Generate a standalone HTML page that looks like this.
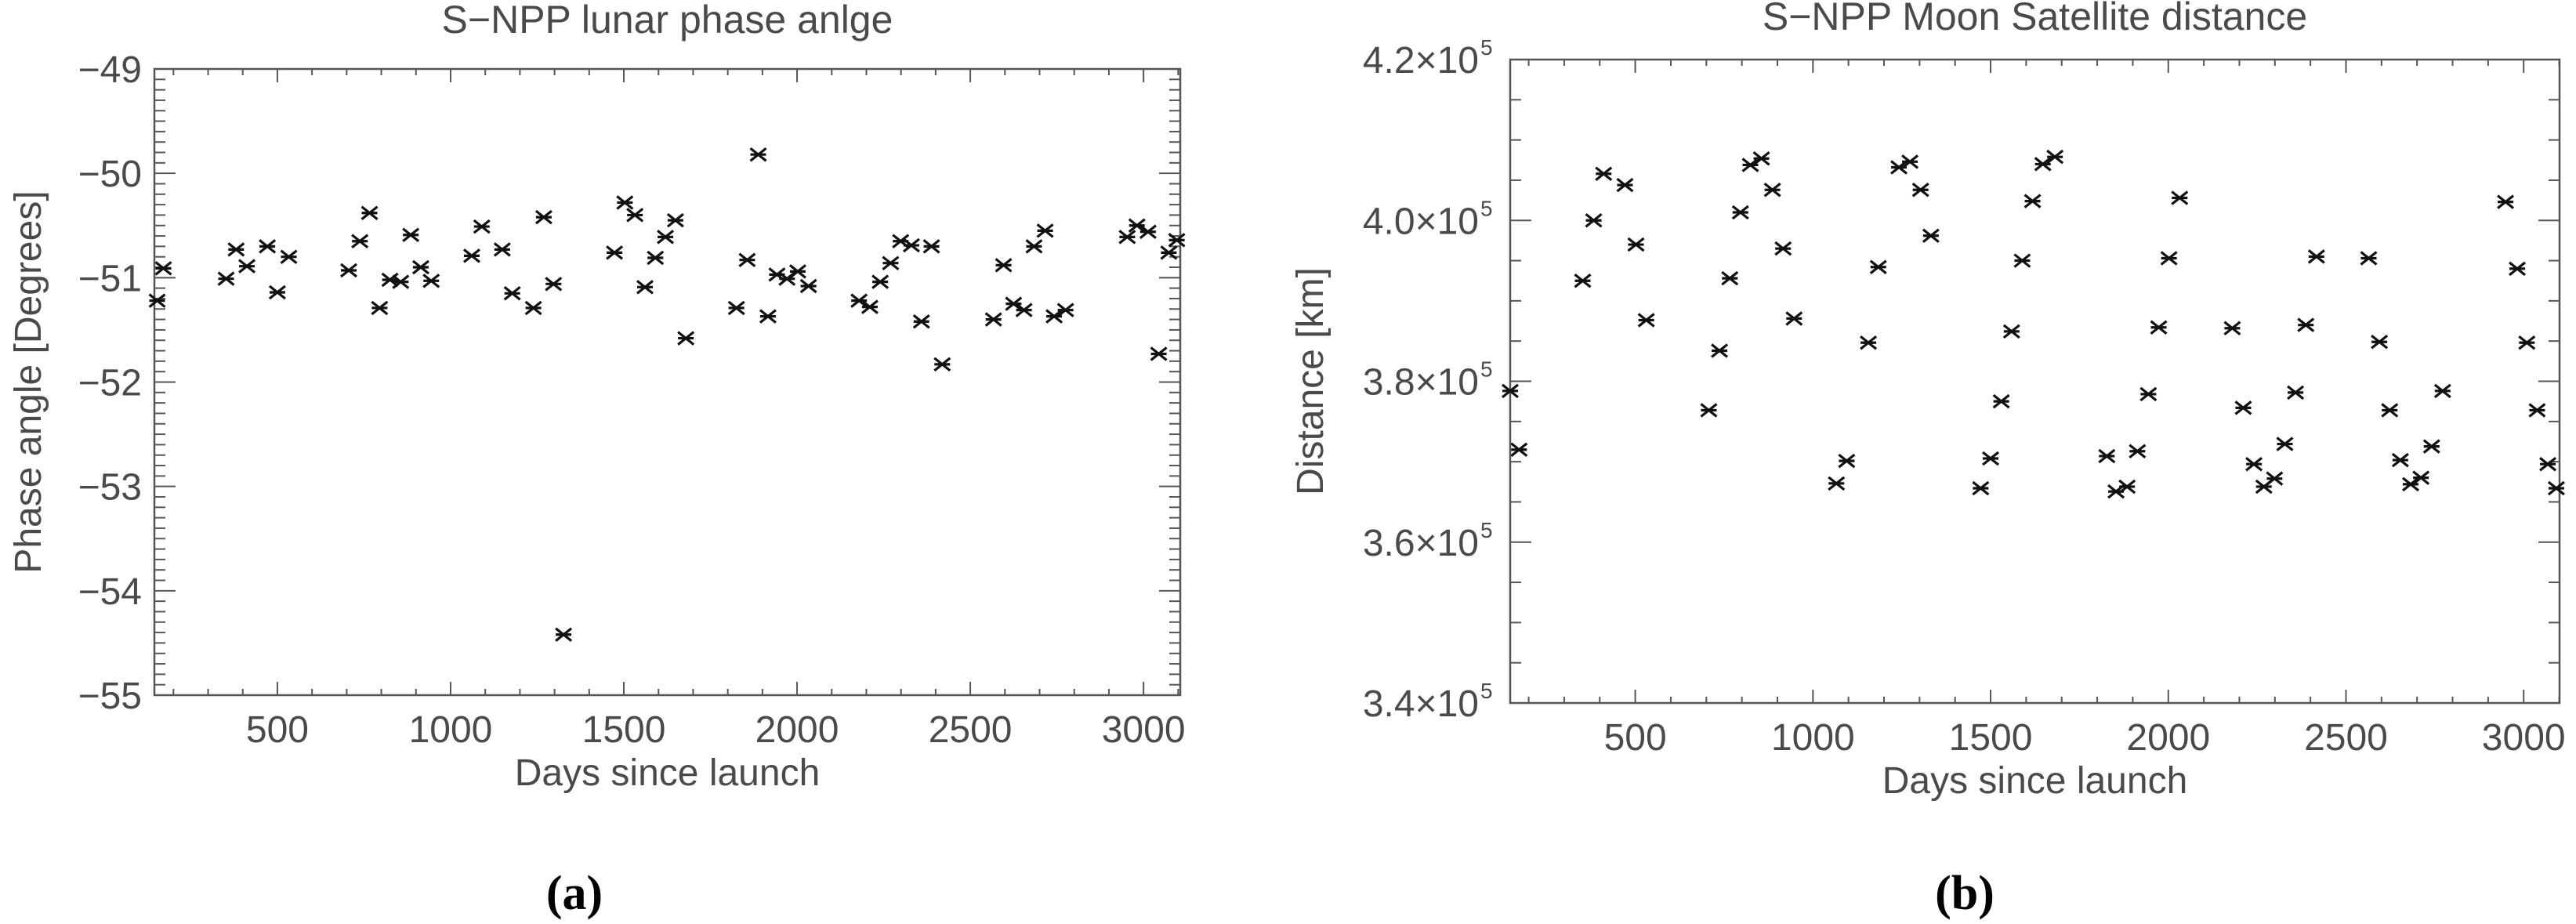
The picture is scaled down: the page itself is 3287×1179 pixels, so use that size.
<!DOCTYPE html>
<html><head><meta charset="utf-8"><style>
html,body{margin:0;padding:0;background:#fff;}
svg{display:block;}
text{font-family:"Liberation Sans",sans-serif;fill:#4a4a4a;}
.cap{font-family:"Liberation Serif",serif;font-weight:bold;fill:#000;}
</style></head><body>
<svg id="fig" width="3287" height="1179" viewBox="0 0 3287 1179" xmlns="http://www.w3.org/2000/svg">
<rect x="0" y="0" width="3287" height="1179" fill="#fff"/>
<g id="chartA"></g>
<g id="chartB"></g>
<text class="cap" x="733" y="1160" font-size="62" text-anchor="middle">(a)</text>
<text class="cap" x="2507" y="1160" font-size="62" text-anchor="middle">(b)</text>
</svg>
<script>
// ---- Data: chart (a) lunar phase angle ----
const phaseDays = [153,171,352,381,412,471,500,533,706,738,766,795,825,856,885,914,944,1061,1090,1149,1178,1239,1269,1297,1326,1473,1503,1532,1561,1591,1620,1649,1679,1825,1856,1888,1916,1942,1971,2002,2033,2179,2210,2240,2270,2299,2330,2359,2388,2419,2567,2596,2625,2655,2684,2716,2742,2775,2953,2981,3013,3044,3073,3096];
const phaseValues = [-51.22,-50.91,-51.01,-50.73,-50.89,-50.70,-51.14,-50.80,-50.93,-50.65,-50.38,-51.29,-51.02,-51.04,-50.59,-50.90,-51.03,-50.79,-50.51,-50.73,-51.15,-51.29,-50.42,-51.06,-54.42,-50.76,-50.28,-50.40,-51.09,-50.81,-50.61,-50.45,-51.58,-51.29,-50.83,-49.82,-51.37,-50.97,-51.01,-50.94,-51.08,-51.22,-51.28,-51.04,-50.86,-50.65,-50.69,-51.42,-50.70,-51.83,-51.40,-50.88,-51.25,-51.31,-50.70,-50.55,-51.37,-51.31,-50.61,-50.50,-50.56,-51.73,-50.76,-50.64];
const phaseTickLabels = ["-49","-50","-51","-52","-53","-54","-55"];
const phaseTickValues = [-49,-50,-51,-52,-53,-54,-55];
// ---- Data: chart (b) moon-satellite distance (units of 1e5 km) ----
const distDays = [148,173,352,383,411,471,502,531,707,737,766,796,824,855,886,916,947,1066,1095,1156,1184,1242,1273,1303,1332,1472,1500,1530,1559,1589,1618,1647,1681,1827,1853,1884,1913,1944,1973,2002,2032,2180,2211,2241,2269,2299,2328,2358,2387,2417,2564,2594,2623,2653,2682,2711,2741,2772,2949,2982,3009,3038,3068,3092];
const distValues = [3.788,3.715,3.925,4.000,4.058,4.044,3.970,3.876,3.764,3.838,3.928,4.010,4.069,4.077,4.038,3.965,3.878,3.673,3.701,3.848,3.942,4.066,4.073,4.038,3.981,3.667,3.704,3.775,3.862,3.950,4.024,4.070,4.079,3.707,3.663,3.669,3.713,3.784,3.867,3.953,4.028,3.866,3.767,3.697,3.669,3.679,3.722,3.786,3.870,3.955,3.953,3.849,3.764,3.702,3.672,3.680,3.719,3.788,4.023,3.940,3.848,3.764,3.697,3.667];
const distTickMantissa = ["4.2","4.0","3.8","3.6","3.4"];
const distTickValues = [4.2,4.0,3.8,3.6,3.4];
const xTickValues = [500,1000,1500,2000,2500,3000];
const xTickLabels = ["500","1000","1500","2000","2500","3000"];

const NS="http://www.w3.org/2000/svg";
function mk(parent,tag,attrs,txt){const e=document.createElementNS(NS,tag);for(const k in attrs)e.setAttribute(k,attrs[k]);if(txt!==undefined)e.textContent=txt;parent.appendChild(e);return e;}

function drawChart(g,cfg){
  const {L,R,T,B,xmin,xmax,ymin,ymax}=cfg;
  const sx=v=>L+(v-xmin)/(xmax-xmin)*(R-L);
  const sy=v=>B-(v-ymin)/(ymax-ymin)*(B-T);
  const ax="#555";
  const frame=mk(g,'rect',{x:L,y:T,width:R-L,height:B-T,fill:'none',stroke:ax,'stroke-width':2.5});
  
  
  for(let d=Math.ceil(xmin/100)*100; d<=xmax; d+=100){
    const major=d%500===0, len=major?17:8, x=sx(d);
    const t1=mk(g,'line',{x1:x,y1:B,x2:x,y2:B-len,stroke:ax,'stroke-width':2});
    
    
    const t2=mk(g,'line',{x1:x,y1:T,x2:x,y2:T+len,stroke:ax,'stroke-width':2});
    
    
  }
  xTickValues.forEach((v,i)=>{
    const t=mk(g,'text',{x:sx(v),y:B+60,'font-size':48,'text-anchor':'middle'},xTickLabels[i]);
    
    
  });
  const steps=Math.round((ymax-ymin)/cfg.minor);
  for(let k=0;k<=steps;k++){
    const v=ymin+k*cfg.minor;
    const major=(k%cfg.per===0), len=major?27:14, y=sy(v);
    const t1=mk(g,'line',{x1:L,y1:y,x2:L+len,y2:y,stroke:ax,'stroke-width':2});
    
    
    const t2=mk(g,'line',{x1:R,y1:y,x2:R-len,y2:y,stroke:ax,'stroke-width':2});
    
    
  }
  cfg.yTicks.forEach((v,i)=>{
    const t=mk(g,'text',{x:L-16,y:sy(v)+17,'font-size':48,'text-anchor':'end'});
    
    
    if(cfg.sci){
      t.setAttribute('x',L-40);
      t.textContent=cfg.yLabels[i]+"\u00d710";
      const s=mk(g,'text',{x:L-38,y:sy(v)-6,'font-size':28,'text-anchor':'start'},"5");
      
      
    } else t.textContent=cfg.yLabels[i].replace('-','\u2212');
  });
  const tt=mk(g,'text',{x:(L+R)/2,y:cfg.titleY,'font-size':50,'text-anchor':'middle'},cfg.title);
  
  
  const xt=mk(g,'text',{x:(L+R)/2,y:B+115,'font-size':48,'text-anchor':'middle'},"Days since launch");
  
  
  const cy=(T+B)/2;
  const yt=mk(g,'text',{x:cfg.ytX,y:cy,'font-size':48,'text-anchor':'middle',transform:`rotate(-90 ${cfg.ytX} ${cy})`},cfg.yTitle);
  
  
  cfg.xs.forEach((d,i)=>{
    const x=sx(d), y=sy(cfg.ys[i]);
    if(x<L-2||x>R+2) return;
    const m=mk(g,'path',{d:`M${x-10} ${y-8}L${x+10} ${y+8}M${x-10} ${y+8}L${x+10} ${y-8}M${x-10} ${y}L${x+10} ${y}`,stroke:'#111','stroke-width':3.2,fill:'none'});
    
    
  });
}

drawChart(document.getElementById('chartA'),{L:197,R:1506,T:88,B:887,xmin:145,xmax:3106,ymin:-55,ymax:-49,
  minor:0.1,per:10,yTicks:phaseTickValues,yLabels:phaseTickLabels,sci:false,
  title:"S\u2212NPP lunar phase anlge",titleY:42,yTitle:"Phase angle [Degrees]",ytX:52,xs:phaseDays,ys:phaseValues});
drawChart(document.getElementById('chartB'),{L:1927,R:3266,T:76,B:897,xmin:148,xmax:3101,ymin:3.4,ymax:4.2,
  minor:0.05,per:4,yTicks:distTickValues,yLabels:distTickMantissa,sci:true,
  title:"S\u2212NPP Moon Satellite distance",titleY:38,yTitle:"Distance [km]",ytX:1688,xs:distDays,ys:distValues});
</script>
</body></html>
